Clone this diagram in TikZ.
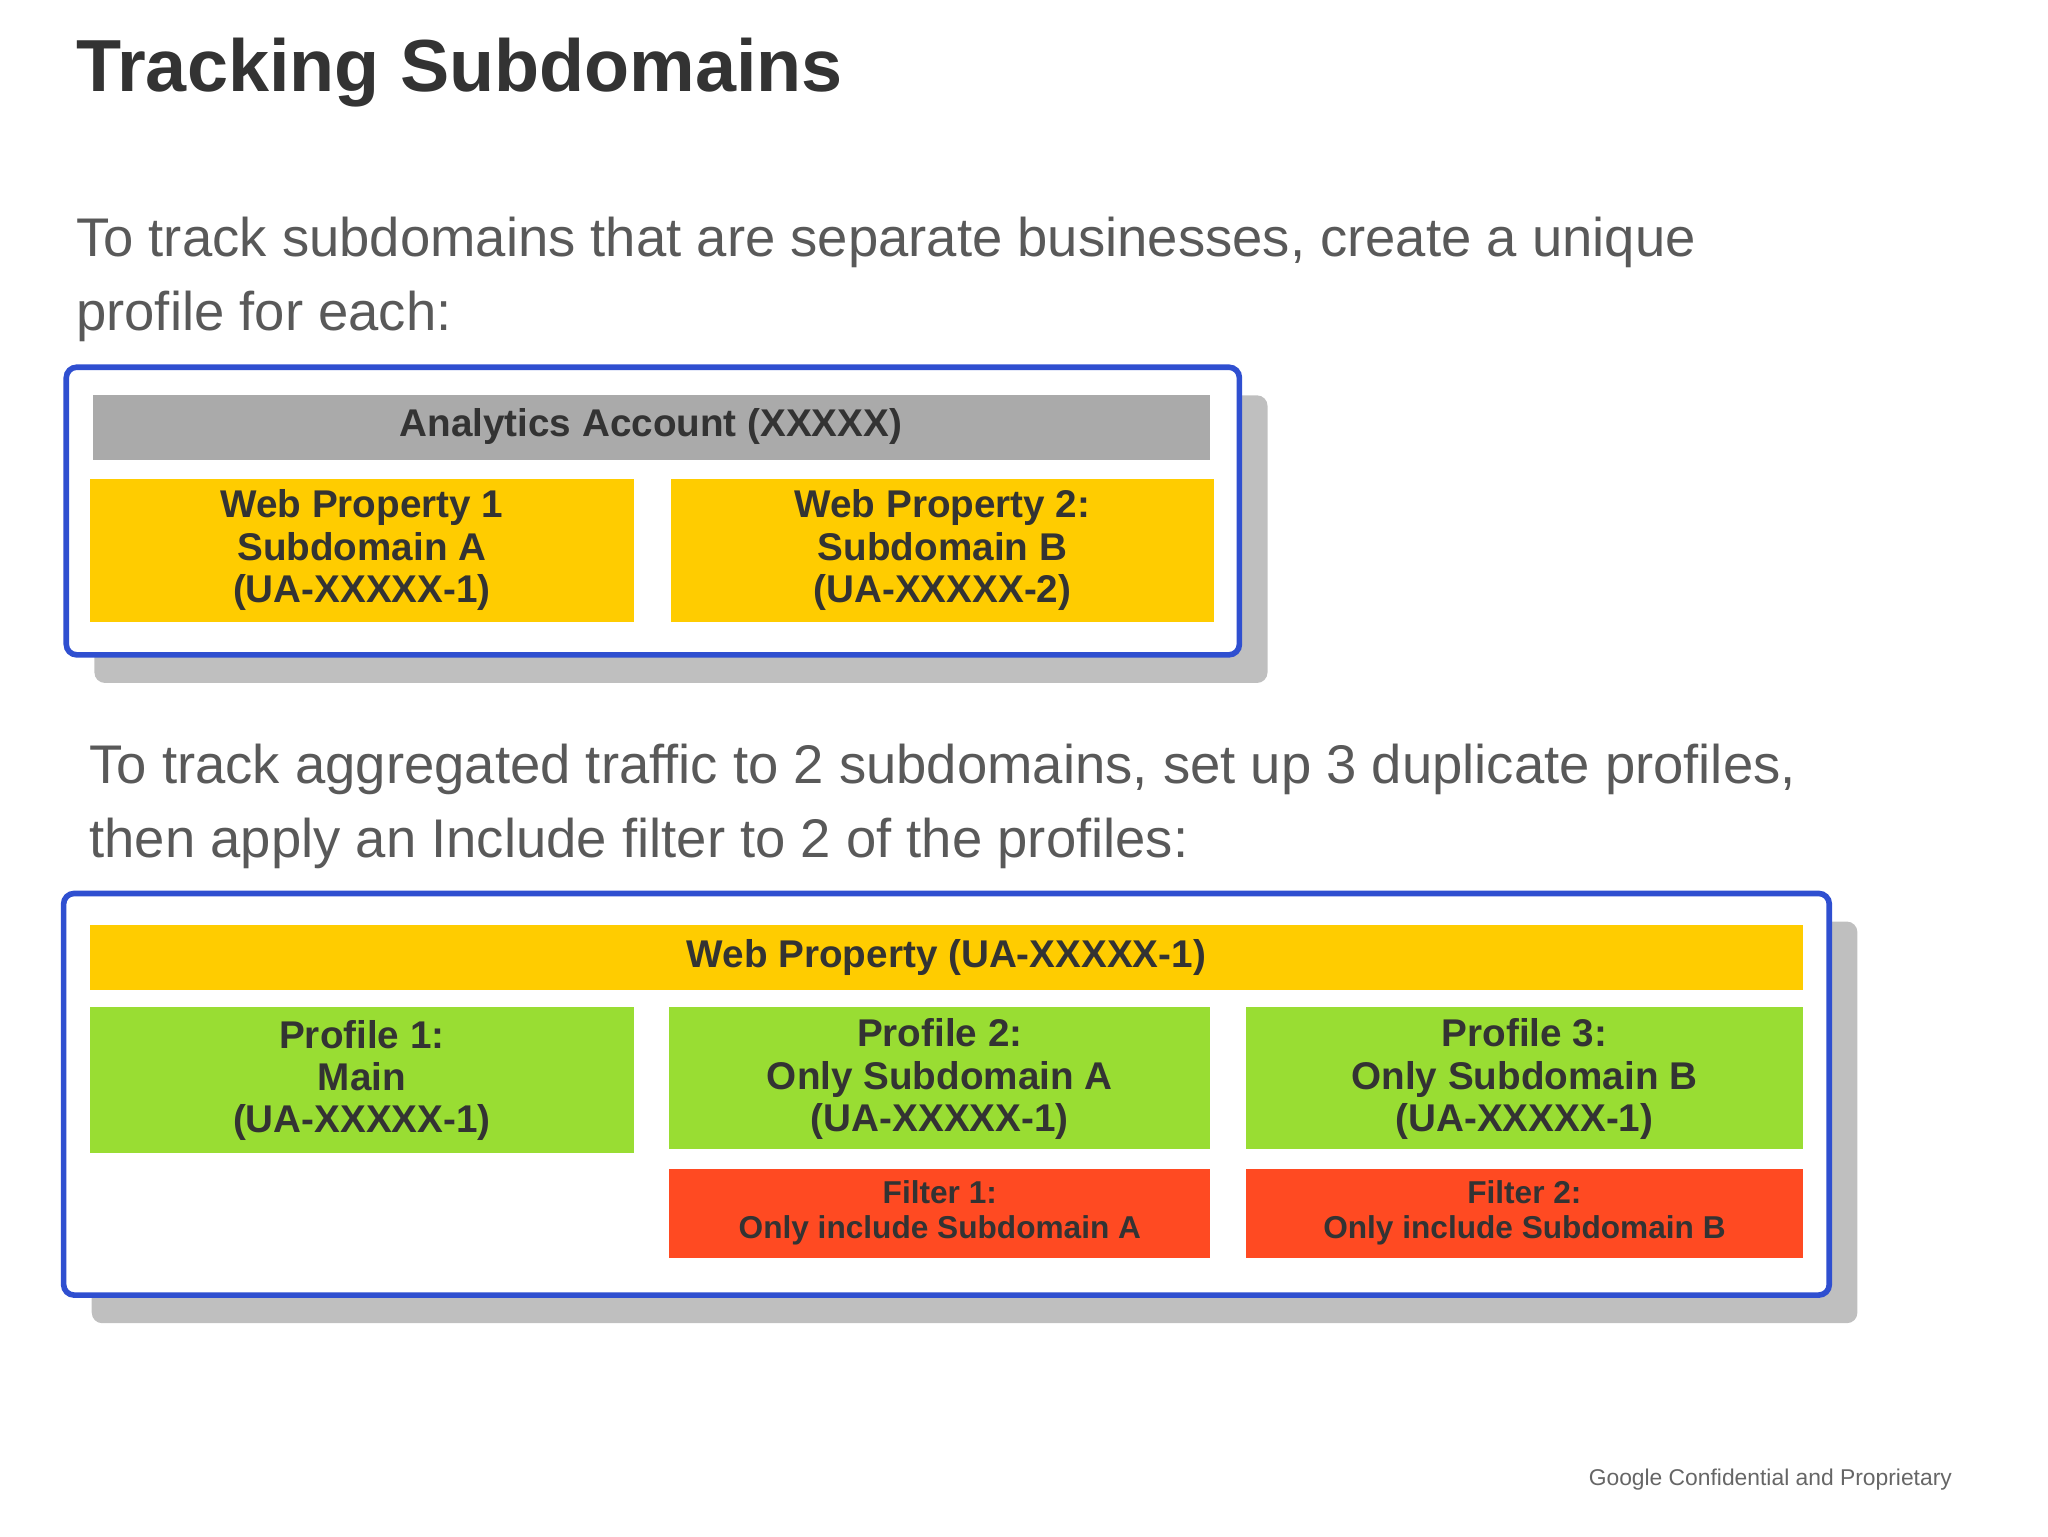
\documentclass[tikz,border=0pt]{standalone}
\usepackage{fontspec}
\setmainfont{Liberation Sans}
\usetikzlibrary{shadows}
\definecolor{yel}{HTML}{FFCC00}
\definecolor{grn}{HTML}{99DD33}
\definecolor{red1}{HTML}{FF4A22}
\definecolor{gry}{HTML}{AAAAAA}
\definecolor{blu}{HTML}{2F4FD0}
\definecolor{txt}{HTML}{333333}
\begin{document}
\begin{tikzpicture}[x=0.013256cm,y=-0.013256cm,
 outer/.style={draw=blu,line width=1.6pt,rounded corners=3pt,fill=white,drop shadow={shadow xshift=8pt,shadow yshift=-8pt,opacity=0.5}},
 cell/.style={inner sep=0pt,align=center,font=\bfseries\fontsize{11}{12}\selectfont,text=txt},
 small/.style={inner sep=0pt,align=center,font=\bfseries\fontsize{9}{10}\selectfont,text=txt},
 body/.style={anchor=north west,align=left,inner sep=0pt,text=black!65,font=\fontsize{15.5}{21}\selectfont}]
\useasboundingbox (0,0) rectangle (1545,1159);
\node[anchor=west,inner sep=0pt,text=black!80,font=\bfseries\fontsize{21}{24}\selectfont] (title) at (57,55) {Tracking Subdomains};
\node[body] (t1) at (57,163) {To track subdomains that are separate businesses, create a unique\\profile for each:};
\node[body] (t2) at (67,561) {To track aggregated traffic to 2 subdomains, set up 3 duplicate profiles,\\then apply an Include filter to 2 of the profiles:};
\node[anchor=east,inner sep=0pt,text=black!60,font=\fontsize{6.5}{8}\selectfont] (foot) at (1473,1116) {Google Confidential and Proprietary};
% box 1
\path[outer] (50,277) rectangle (935,494);
\fill[gry] (70,298) rectangle (913,347);
\node[cell] (acc) at (491,322) {Analytics Account (XXXXX)};
\fill[yel] (68,361) rectangle (478,469);
\node[cell] (wp1) at (273,415) {Web Property 1\\Subdomain A\\(UA-XXXXX-1)};
\fill[yel] (506,361) rectangle (916,469);
\node[cell] (wp2) at (711,415) {Web Property 2:\\Subdomain B\\(UA-XXXXX-2)};
% box 2
\path[outer] (48,674) rectangle (1380,977);
\fill[yel] (68,698) rectangle (1360,747);
\node[cell] (wp) at (714,722) {Web Property (UA-XXXXX-1)};
\fill[grn] (68,760) rectangle (478,870);
\node[cell] (p1) at (273,815) {Profile 1:\\Main\\(UA-XXXXX-1)};
\fill[grn] (505,760) rectangle (913,867);
\node[cell] (p2) at (709,814) {Profile 2:\\Only Subdomain A\\(UA-XXXXX-1)};
\fill[grn] (940,760) rectangle (1360,867);
\node[cell] (p3) at (1150,814) {Profile 3:\\Only Subdomain B\\(UA-XXXXX-1)};
\fill[red1] (505,882) rectangle (913,949);
\node[small] (f1) at (709,915) {Filter 1:\\Only include Subdomain A};
\fill[red1] (940,882) rectangle (1360,949);
\node[small] (f2) at (1150,915) {Filter 2:\\Only include Subdomain B};
\end{tikzpicture}
\end{document}
